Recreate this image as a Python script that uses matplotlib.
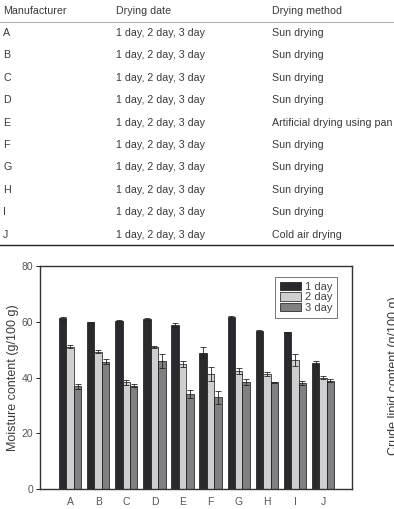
import numpy as np
import matplotlib
matplotlib.use("Agg")
import matplotlib.pyplot as plt

plt.rcParams['font.family'] = ['Liberation Sans', 'DejaVu Sans']

# table content
manufacturers = ['A', 'B', 'C', 'D', 'E', 'F', 'G', 'H', 'I', 'J']
drying_dates = ['1 day, 2 day, 3 day'] * 10
drying_methods = ['Sun drying', 'Sun drying', 'Sun drying', 'Sun drying',
                  'Artificial drying using pan', 'Sun drying', 'Sun drying',
                  'Sun drying', 'Sun drying', 'Cold air drying']

# moisture content (g/100 g), mean and error
day1 = [61.2, 59.8, 60.3, 61.0, 58.8, 48.9, 61.8, 56.8, 56.2, 45.1]
day2 = [51.1, 49.3, 38.3, 51.0, 44.8, 41.3, 42.4, 41.2, 46.3, 40.0]
day3 = [36.8, 45.7, 37.1, 46.0, 34.1, 32.9, 38.3, 38.3, 38.0, 38.8]
err1 = [0.6, 0.2, 0.2, 0.3, 0.8, 1.9, 0.3, 0.3, 0.2, 0.9]
err2 = [0.5, 0.5, 0.9, 0.4, 1.0, 2.6, 1.0, 0.7, 2.2, 0.5]
err3 = [0.8, 1.0, 0.6, 2.5, 1.5, 2.4, 1.0, 0.2, 0.8, 0.5]
series_labels = ['1 day', '2 day', '3 day']
colors = ['#2a2a2e', '#cfcfd1', '#808082']

W, H = 394, 509
fig = plt.figure(figsize=(W / 100, H / 100), dpi=100)

def fy(px):
    return 1 - px / H

# ---- table ----
txt_color = '#3a3a3a'
col_x = [3, 116, 272]
fs_tab = 7.7
fig.text(col_x[0] / W, fy(11), 'Manufacturer', fontsize=fs_tab, color=txt_color, va='center')
fig.text(col_x[1] / W, fy(11), 'Drying date', fontsize=fs_tab, color=txt_color, va='center')
fig.text(col_x[2] / W, fy(11), 'Drying method', fontsize=fs_tab, color=txt_color, va='center')
fig.add_artist(plt.Line2D([0, 1], [fy(22), fy(22)], color='#a0a0a0', lw=0.6))
row_step = 22.4
for i, (m, d, meth) in enumerate(zip(manufacturers, drying_dates, drying_methods)):
    y = fy(33 + i * row_step)
    fig.text(col_x[0] / W, y, m, fontsize=fs_tab, color=txt_color, va='center')
    fig.text(col_x[1] / W, y, d, fontsize=fs_tab, color=txt_color, va='center')
    fig.text(col_x[2] / W, y, meth, fontsize=fs_tab, color=txt_color, va='center')
fig.add_artist(plt.Line2D([0, 1], [fy(245), fy(245)], color='#222222', lw=1.0))

# ---- bar chart ----
ax = fig.add_axes([40 / W, fy(489), 312 / W, (489 - 266) / H])
x = np.arange(len(manufacturers))
bw = 0.265
for k, (vals, errs) in enumerate(zip([day1, day2, day3], [err1, err2, err3])):
    ax.bar(x + (k - 1) * bw, vals, bw, color=colors[k], edgecolor='#111111',
           linewidth=0.5, label=series_labels[k],
           yerr=errs, error_kw=dict(ecolor='#222222', elinewidth=0.6, capsize=2.2, capthick=0.6))

ax.set_xlim(-1.07, 10.03)
ax.set_ylim(0, 80)
ax.set_yticks([0, 20, 40, 60, 80])
ax.set_xticks(x)
ax.set_xticklabels(manufacturers)
ax.tick_params(axis='x', length=0, pad=6, labelsize=7.5, labelcolor='#555555')
ax.tick_params(axis='y', direction='out', length=3, width=0.6, pad=2,
               labelsize=7.5, labelcolor='#555555')
for s in ax.spines.values():
    s.set_linewidth(1.0)
    s.set_color('#333333')
ax.set_ylabel('Moisture content (g/100 g)', fontsize=9, color='#3a3a3a', labelpad=2)

leg = ax.legend(loc='upper right', fontsize=8, frameon=True, fancybox=False,
                handlelength=1.9, handleheight=0.75, handletextpad=0.35,
                borderpad=0.45, labelspacing=0.02, bbox_to_anchor=(0.97, 0.975))
leg.get_frame().set_edgecolor('#555555')
leg.get_frame().set_linewidth(0.7)
for t in leg.get_texts():
    t.set_color('#444444')

# neighbouring panel's label, cut off at the right edge in the source page
fig.text(393.5 / W, fy(376), 'Crude lipid content (g/100 g)', fontsize=9,
         color='#3a3a3a', rotation=90, ha='center', va='center')

fig.savefig('out.png', dpi=100)
